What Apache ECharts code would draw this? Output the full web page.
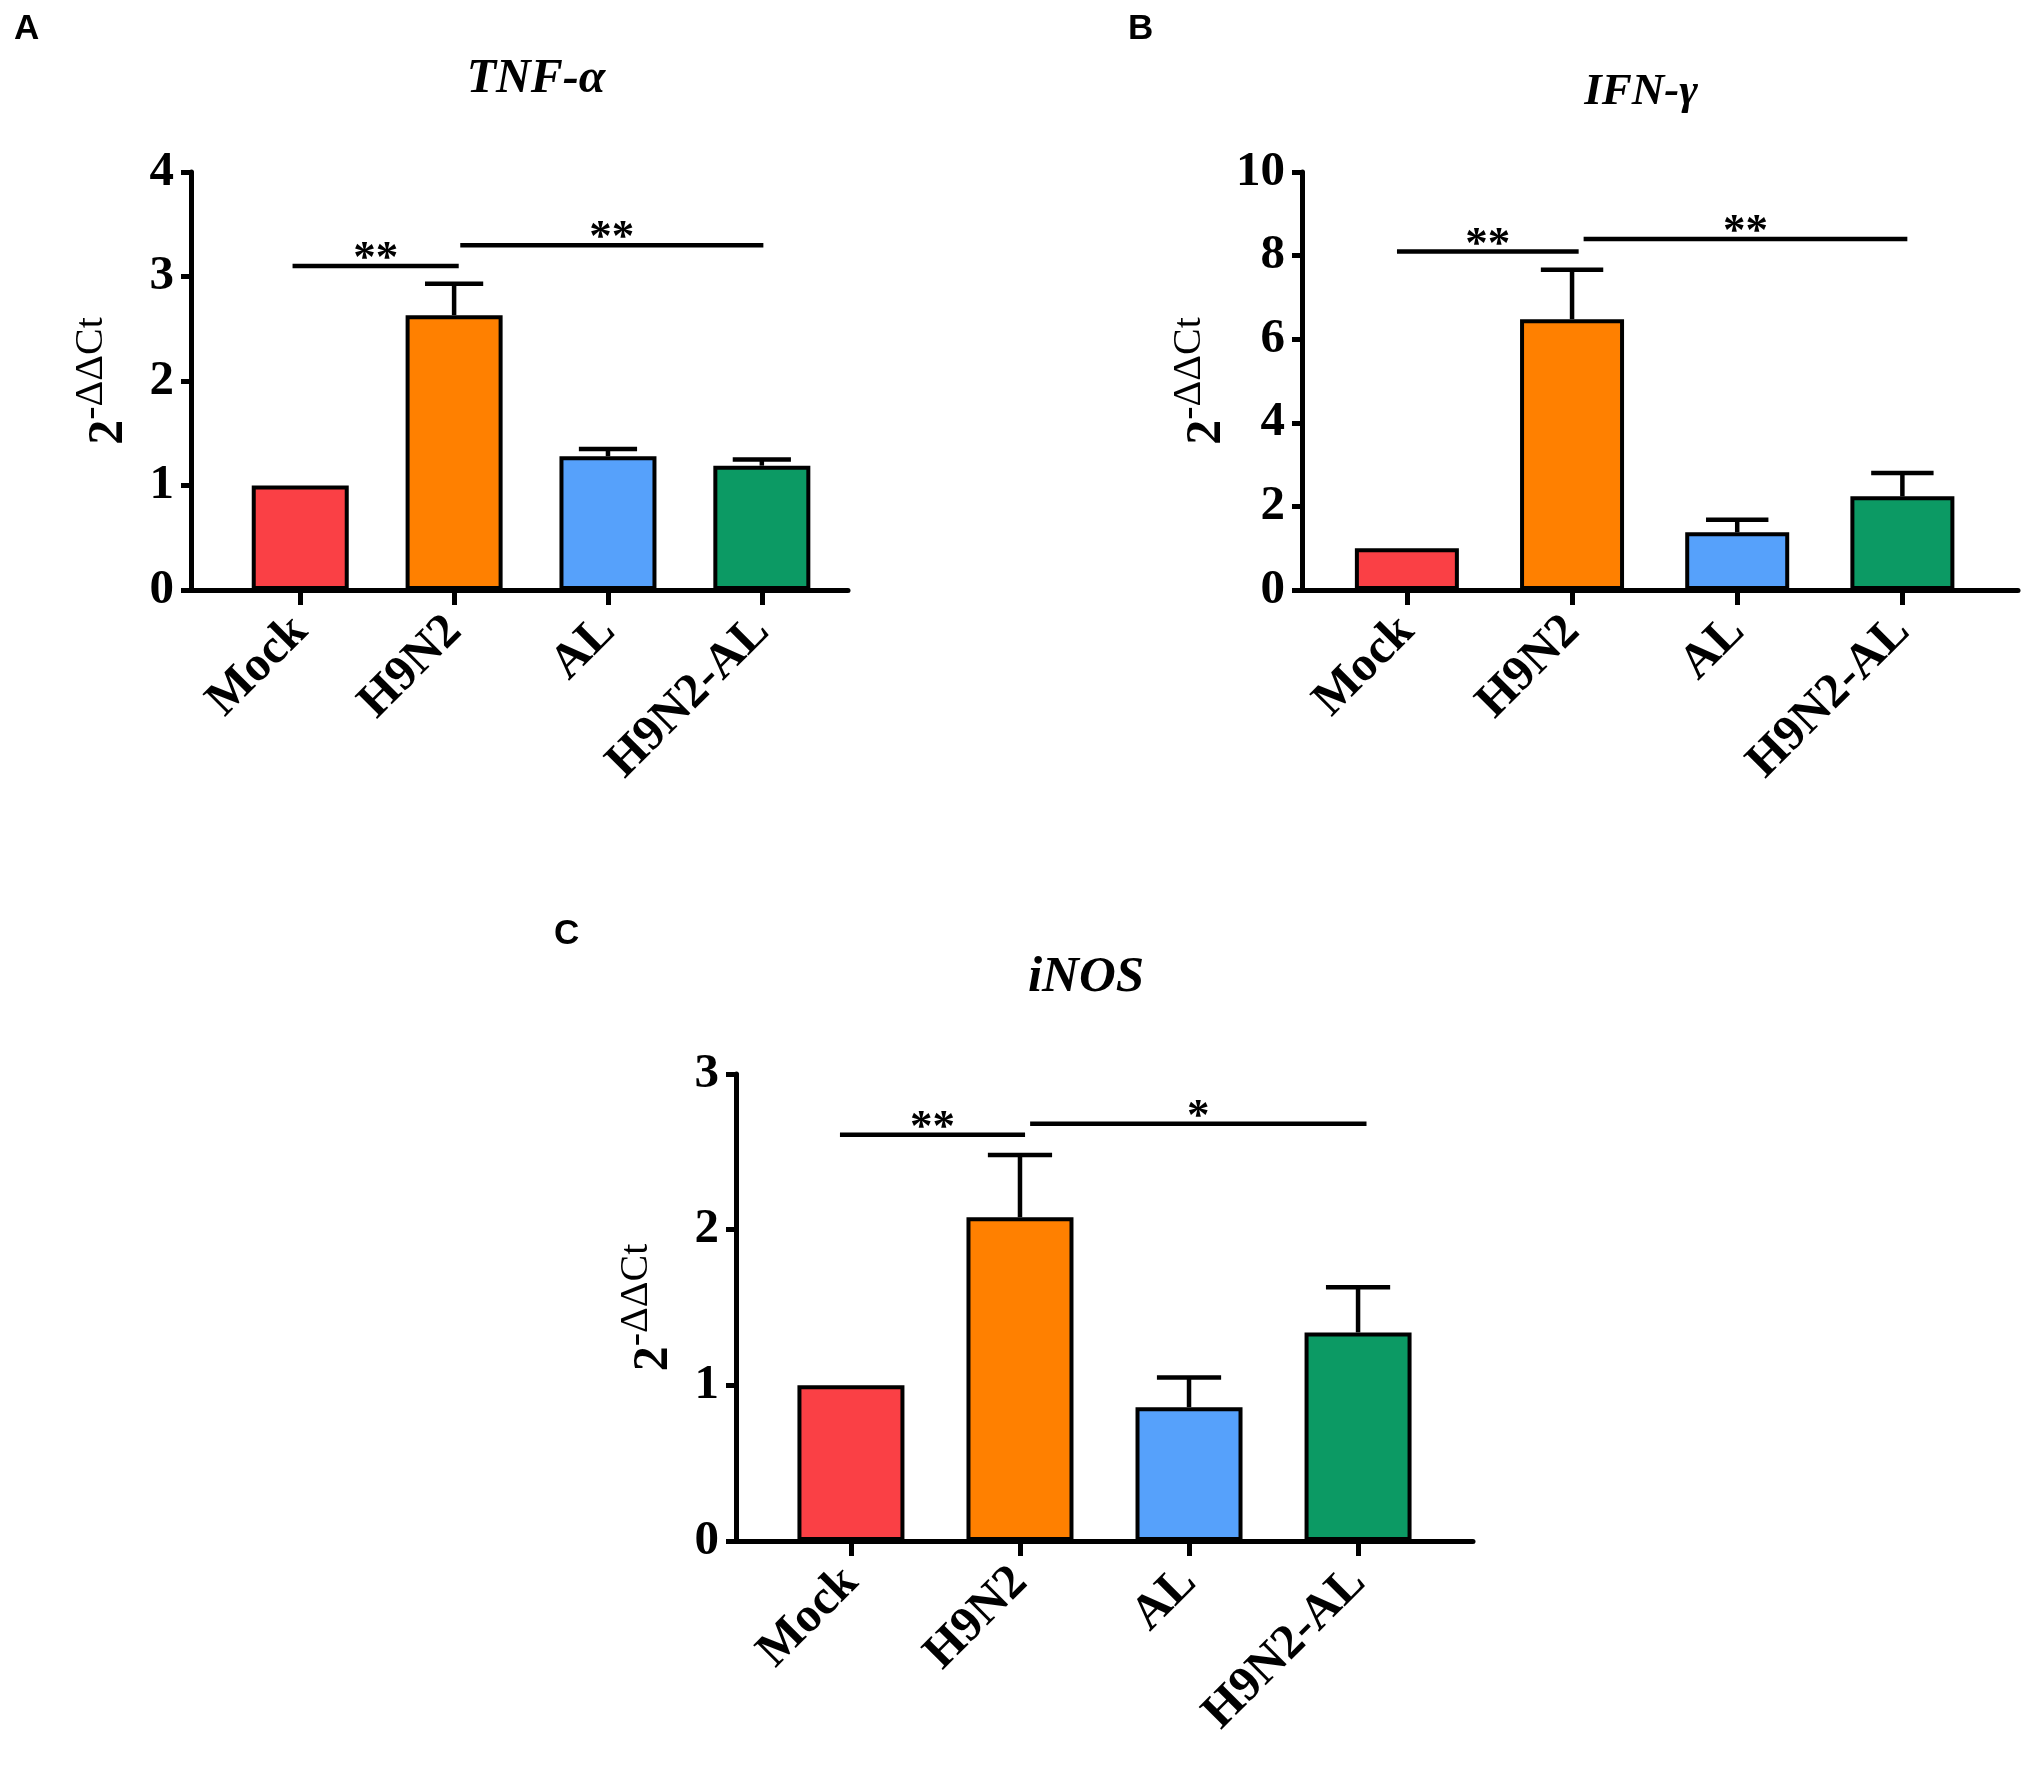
<!DOCTYPE html>
<html>
<head>
<meta charset="utf-8">
<script src="https://cdn.jsdelivr.net/npm/echarts@6/dist/echarts.min.js"></script>
<style>
  html, body { margin: 0; padding: 0; background: #fff; }
  #chart { width: 2026px; height: 1765px; }
</style>
</head>
<body>
<div id="chart"></div>
<script>
// categories and colours
const categories = ['Mock', 'H9N2', 'AL', 'H9N2-AL'];
const barColors = ['#FA4045', '#FF8000', '#56A1FB', '#0C9A64'];

// TNF-α
const tnfMean = [1.0, 2.63, 1.28, 1.19];
const tnfErr = [0, 0.30, 0.07, 0.06];
const tnfTicks = [0, 4, 1];
// [from, to, height, label]
const tnfSig = [[-0.05, 1.03, 3.1, '**'], [1.04, 3.01, 3.3, '**']];

// IFN-γ
const ifnMean = [1.0, 6.48, 1.38, 2.24];
const ifnErr = [0, 1.18, 0.30, 0.56];
const ifnTicks = [0, 10, 2];
const ifnSig = [[-0.06, 1.04, 8.1, '**'], [1.07, 3.03, 8.4, '**']];

// iNOS
const inosMean = [1.0, 2.08, 0.86, 1.34];
const inosErr = [0, 0.40, 0.19, 0.29];
const inosTicks = [0, 3, 1];
const inosSig = [[-0.065, 1.03, 2.61, '**'], [1.06, 3.05, 2.68, '*']];

const serif = '"Liberation Serif", "Times New Roman", serif';
const sans = '"Liberation Sans", Arial, sans-serif';

const panels = [
  { title: 'TNF-α', letter: 'A', mean: tnfMean, err: tnfErr, ticks: tnfTicks, sig: tnfSig,
    grid: { left: 191, top: 172, width: 657, height: 418 }, xr: [-0.71, 3.56], barW: 97,
    titlePos: [536, 80], titleSize: 48, letterPos: [14, 29] },
  { title: 'IFN-γ', letter: 'B', mean: ifnMean, err: ifnErr, ticks: ifnTicks, sig: ifnSig,
    grid: { left: 1302, top: 172, width: 716, height: 418 }, xr: [-0.635, 3.70], barW: 104,
    titlePos: [1641, 92], titleSize: 45, letterPos: [1128, 29] },
  { title: 'iNOS', letter: 'C', mean: inosMean, err: inosErr, ticks: inosTicks, sig: inosSig,
    grid: { left: 736, top: 1074, width: 737, height: 467 }, xr: [-0.68, 3.68], barW: 107,
    titlePos: [1086, 978], titleSize: 51, letterPos: [554, 934] }
];

const grids = [], xAxes = [], yAxes = [], series = [], graphics = [];

panels.forEach((p, k) => {
  grids.push(p.grid);
  xAxes.push({
    type: 'value', gridIndex: k, min: p.xr[0], max: p.xr[1],
    splitLine: { show: false },
    axisLine: { show: true, onZero: false, lineStyle: { color: '#000', width: 5 } },
    axisTick: { show: true, length: 15, lineStyle: { color: '#000', width: 5 }, customValues: [0, 1, 2, 3] },
    axisLabel: {
      customValues: [0, 1, 2, 3], rotate: 45, margin: 34,
      formatter: v => categories[Math.round(v)],
      color: '#000', fontFamily: serif, fontWeight: 'bold', fontSize: 49
    }
  });
  yAxes.push({
    type: 'value', gridIndex: k, min: p.ticks[0], max: p.ticks[1], interval: p.ticks[2],
    splitLine: { show: false },
    axisLine: { show: true, onZero: false, lineStyle: { color: '#000', width: 5 } },
    axisTick: { show: true, length: 10, lineStyle: { color: '#000', width: 5 } },
    axisLabel: { color: '#000', fontFamily: serif, fontWeight: 'bold', fontSize: 49, margin: 17 },
    name: '{a|2}{b|-ΔΔCt}', nameLocation: 'middle', nameRotate: 90, nameGap: 44,
    nameTextStyle: {
      rich: {
        a: { fontFamily: serif, fontWeight: 'bold', fontSize: 50, color: '#000' },
        b: { fontFamily: serif, fontSize: 40, color: '#000', padding: [0, 0, 36, 0] }
      }
    }
  });

  series.push({
    type: 'bar', xAxisIndex: k, yAxisIndex: k, barWidth: p.barW,
    data: p.mean.map((v, i) => ({ value: [i, v], itemStyle: { color: barColors[i] } })),
    itemStyle: { borderColor: '#000', borderWidth: 4 },
    silent: true, animation: false
  });

  // error bars (upper only)
  const cap = p.barW * 0.3;
  series.push({
    type: 'custom', xAxisIndex: k, yAxisIndex: k, z: 5, animation: false,
    data: p.mean.map((v, i) => [i, v, p.err[i]]),
    encode: { x: 0, y: 1 },
    renderItem: (params, api) => {
      const x = api.value(0), m = api.value(1), e = api.value(2);
      if (!e) return null;
      const a = api.coord([x, m]), b = api.coord([x, m + e]);
      const st = { stroke: '#000', lineWidth: 4.5 };
      return {
        type: 'group', children: [
          { type: 'line', shape: { x1: a[0], y1: a[1], x2: b[0], y2: b[1] }, style: st },
          { type: 'line', shape: { x1: b[0] - cap, y1: b[1], x2: b[0] + cap, y2: b[1] }, style: st }
        ]
      };
    }
  });

  // significance lines
  series.push({
    type: 'custom', xAxisIndex: k, yAxisIndex: k, z: 6, animation: false,
    data: p.sig.map(s => [s[0], s[1], s[2]]),
    encode: { x: [0, 1], y: 2 },
    renderItem: (params, api) => {
      const a = api.coord([api.value(0), api.value(2)]);
      const b = api.coord([api.value(1), api.value(2)]);
      return {
        type: 'group', children: [
          { type: 'line', shape: { x1: a[0], y1: a[1], x2: b[0], y2: b[1] },
            style: { stroke: '#000', lineWidth: 4.5 } },
          { type: 'text', x: (a[0] + b[0]) / 2, y: a[1] + 16,
            style: { text: p.sig[params.dataIndex][3], textAlign: 'center', textVerticalAlign: 'bottom',
              font: 'bold 45px ' + serif, fill: '#000' } }
        ]
      };
    }
  });

  graphics.push({
    type: 'text', x: p.titlePos[0], y: p.titlePos[1],
    style: { text: p.title, textAlign: 'center', textVerticalAlign: 'middle',
      font: 'italic bold ' + p.titleSize + 'px ' + serif, fill: '#000' }
  });
  graphics.push({
    type: 'text', x: p.letterPos[0], y: p.letterPos[1],
    style: { text: p.letter, textAlign: 'left', textVerticalAlign: 'middle',
      font: 'bold 35px ' + sans, fill: '#000' }
  });
});

const chart = echarts.init(document.getElementById('chart'));
chart.setOption({
  backgroundColor: '#fff',
  animation: false,
  grid: grids,
  xAxis: xAxes,
  yAxis: yAxes,
  series: series,
  graphic: graphics
});
</script>
</body>
</html>
